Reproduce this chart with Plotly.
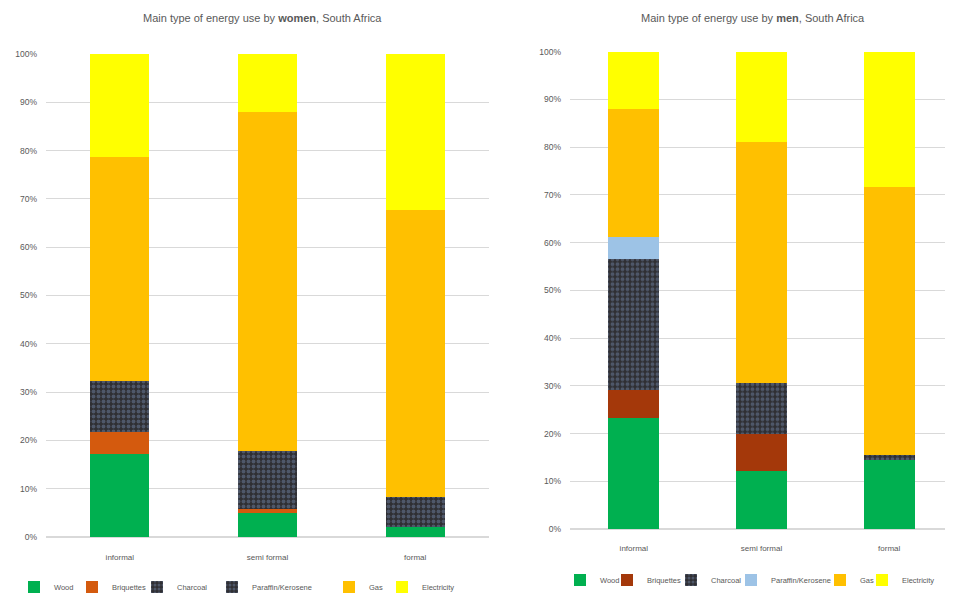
import plotly.graph_objects as go

categories = ["informal", "semi formal", "formal"]
series_names = ["Wood", "Briquettes", "Charcoal", "Paraffin/Kerosene", "Gas", "Electricity"]

# Women (percent of households)
women_wood = [17.2, 5.0, 2.0]
women_briquettes = [4.6, 0.8, 0.0]
women_charcoal = [10.4, 12.0, 6.3]
women_paraffin = [0.0, 0.0, 0.0]
women_gas = [46.5, 70.2, 59.4]
women_electricity = [21.3, 12.0, 32.3]

# Men (percent of households)
men_wood = [23.2, 12.2, 14.5]
men_briquettes = [5.9, 7.8, 0.0]
men_charcoal = [27.5, 10.5, 1.0]
men_paraffin = [4.5, 0.0, 0.0]
men_gas = [26.9, 50.6, 56.2]
men_electricity = [12.0, 18.9, 28.3]

# page has an 8px body margin: figure is sized to fit the 953x602 window
OFF = 8
W, H = 953 - OFF, 602 - OFF


def fx(px):
    return (px - OFF) / W


def fy(py):
    return 1 - (py - OFF) / H


fig = go.Figure()

charcoal_pattern = dict(shape=".", fgcolor="#6d7fa0", bgcolor="#2f2f33", size=5, solidity=0.45)

# legend text start positions (page px) for each item
left_legend_text_x = [52, 110, 175, 250, 367, 420]
right_legend_text_x = [598, 645, 709, 769, 858, 900]
legend_font = dict(family="Liberation Sans, Arial", size=7.5, color="#595959")
legend_layouts = {}


def add_chart(vals, colors, patterns, xa, ya, first_idx, text_xs, ly):
    for i, (name, v, c, p) in enumerate(zip(series_names, vals, colors, patterns)):
        marker = dict(color=c, line=dict(width=0))
        if p is not None:
            marker["pattern"] = p
        idx = first_idx + i
        lname = "legend" if idx == 1 else f"legend{idx}"
        fig.add_trace(go.Bar(
            x=categories, y=v, name=name, marker=marker, width=0.4,
            xaxis=xa, yaxis=ya, legend=lname, showlegend=True,
        ))
        legend_layouts[lname] = dict(
            orientation="h", x=fx(text_xs[i] - 38), xanchor="left",
            y=fy(ly), yanchor="middle", font=legend_font,
            itemwidth=30, bgcolor="rgba(0,0,0,0)", borderwidth=0,
        )


add_chart(
    [women_wood, women_briquettes, women_charcoal, women_paraffin, women_gas, women_electricity],
    ["#00B050", "#D45A0E", "#2f2f33", "#2f2f33", "#FFC000", "#FFFF00"],
    [None, None, charcoal_pattern, charcoal_pattern, None, None],
    "x", "y", 1, left_legend_text_x, 587,
)
add_chart(
    [men_wood, men_briquettes, men_charcoal, men_paraffin, men_gas, men_electricity],
    ["#00B050", "#A4380A", "#2f2f33", "#9DC3E6", "#FFC000", "#FFFF00"],
    [None, None, charcoal_pattern, None, None, None],
    "x2", "y2", 7, right_legend_text_x, 580,
)

tickfont = dict(family="Liberation Sans, Arial", size=8, color="#595959")
ytickfont = dict(family="Liberation Sans, Arial", size=8.5, color="#595959")
yticks = list(range(0, 101, 10))
ytext = [f"{t}%" for t in yticks]

fig.update_layout(
    width=W, height=H,
    margin=dict(l=0, r=0, t=0, b=0, autoexpand=False),
    paper_bgcolor="white", plot_bgcolor="white",
    barmode="stack",
    font=dict(family="Liberation Sans, Arial", color="#595959"),
    xaxis=dict(domain=[fx(46), fx(489)], anchor="y", range=[-0.5, 2.5],
               showgrid=False, showline=False, ticks="", tickfont=tickfont, ticklabelstandoff=14),
    yaxis=dict(domain=[fy(537), fy(54)], anchor="x", range=[0, 100],
               tickvals=yticks, ticktext=ytext, showgrid=True, gridcolor="#D9D9D9",
               gridwidth=1, zeroline=True, zerolinecolor="#D9D9D9", showline=False,
               ticks="", tickfont=ytickfont, ticklabelstandoff=8),
    xaxis2=dict(domain=[fx(570), 1.0], anchor="y2", range=[-0.5, 2.5],
                showgrid=False, showline=False, ticks="", tickfont=tickfont, ticklabelstandoff=13),
    yaxis2=dict(domain=[fy(529), fy(51.7)], anchor="x2", range=[0, 100],
                tickvals=yticks, ticktext=ytext, showgrid=True, gridcolor="#D9D9D9",
                gridwidth=1, zeroline=True, zerolinecolor="#D9D9D9", showline=False,
                ticks="", tickfont=ytickfont, ticklabelstandoff=8),
    annotations=[
        dict(text="Main type of energy use by <b>women</b>, South Africa", x=fx(262), y=fy(18),
             xref="paper", yref="paper", showarrow=False, xanchor="center", yanchor="middle",
             font=dict(size=11, color="#595959")),
        dict(text="Main type of energy use by <b>men</b>, South Africa", x=fx(753), y=fy(18),
             xref="paper", yref="paper", showarrow=False, xanchor="center", yanchor="middle",
             font=dict(size=11, color="#595959")),
    ],
    **legend_layouts,
)

fig.write_html("out.html")
